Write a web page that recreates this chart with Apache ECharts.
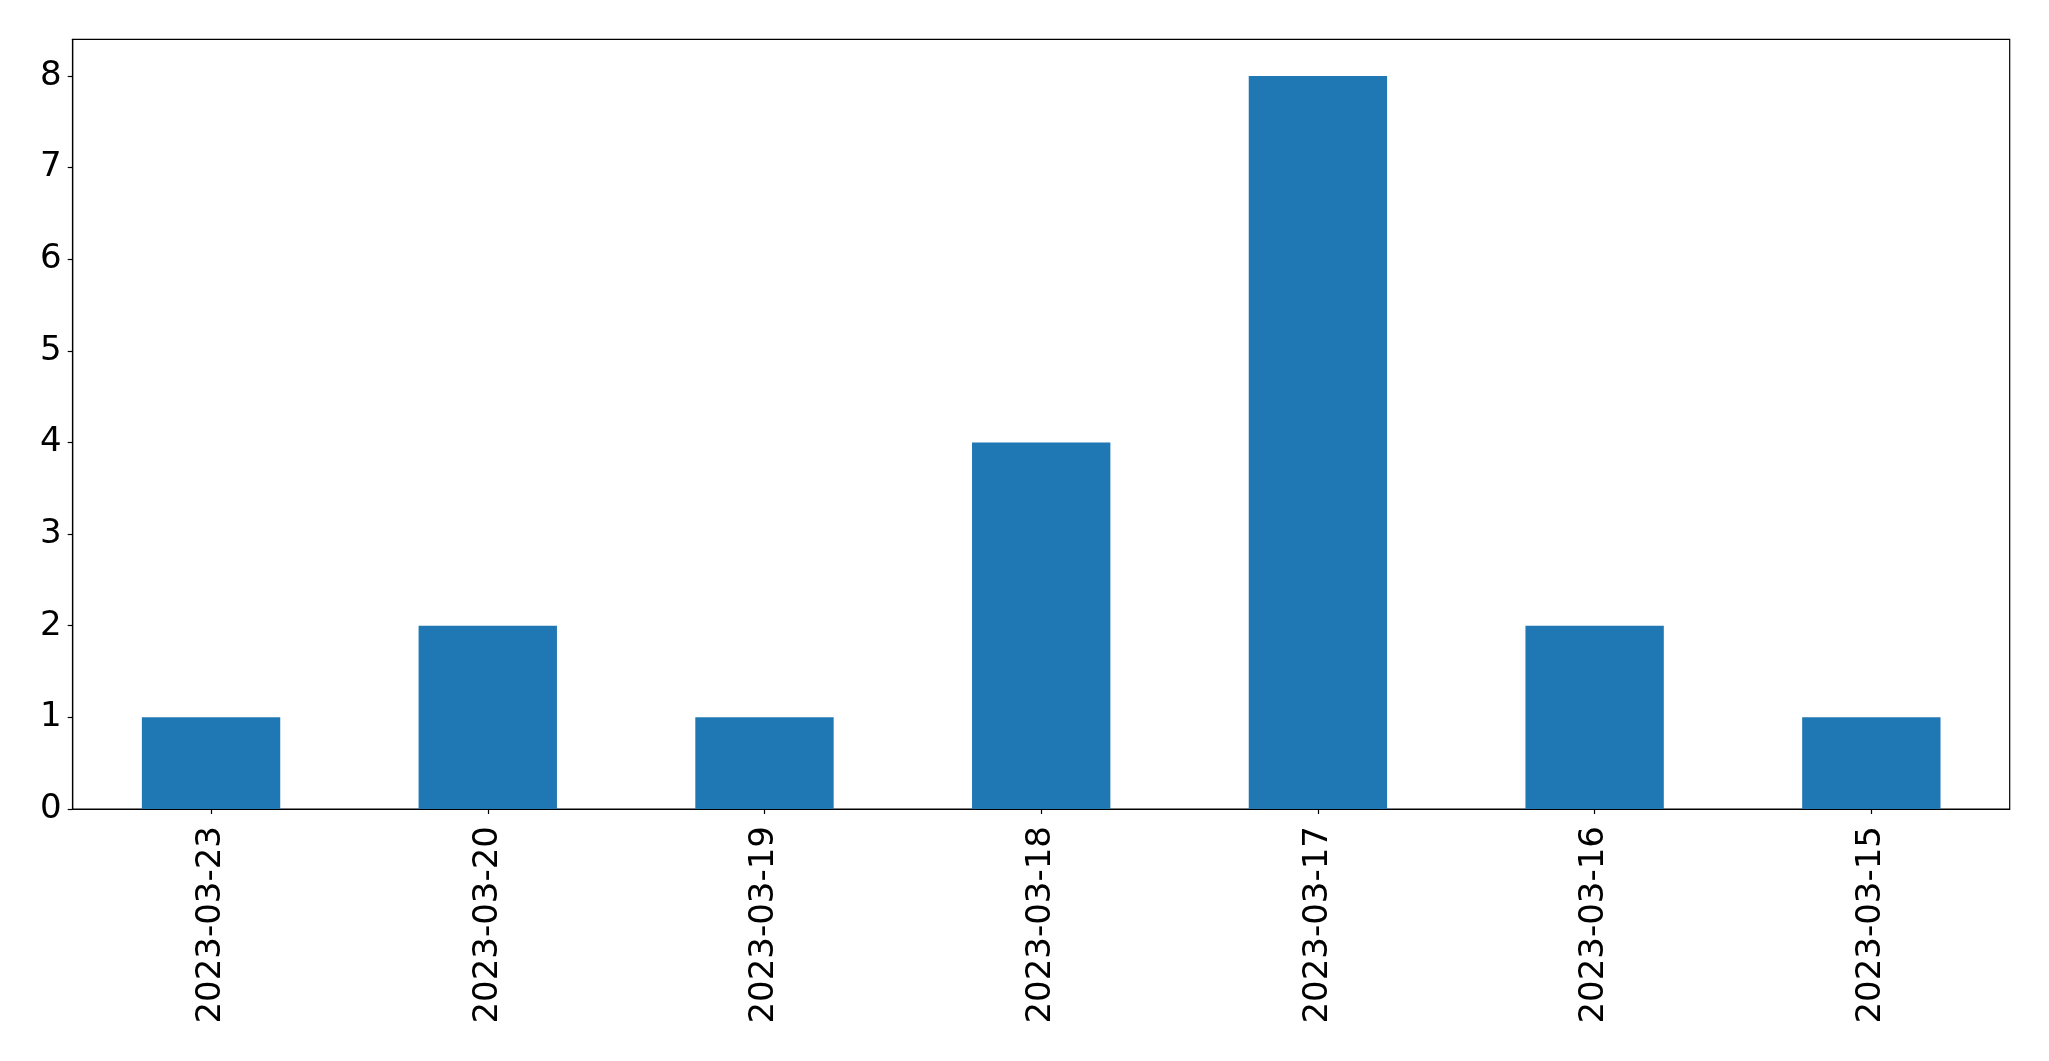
<!DOCTYPE html>
<html>
<head>
<meta charset="utf-8">
<script src="https://cdn.jsdelivr.net/npm/echarts@6/dist/echarts.min.js"></script>
<style>
html,body{margin:0;padding:0;background:#fff;}
#chart{width:2049px;height:1061px;}
</style>
</head>
<body>
<div id="chart"></div>
<script>
const categories = ['2023-03-23','2023-03-20','2023-03-19','2023-03-18','2023-03-17','2023-03-16','2023-03-15'];
const counts = [1, 2, 1, 4, 8, 2, 1];
const yTicks = [0, 1, 2, 3, 4, 5, 6, 7, 8];

const chart = echarts.init(document.getElementById('chart'), null, {renderer: 'canvas'});
const FONT = 'DejaVu Sans';
chart.setOption({
  animation: false,
  backgroundColor: '#ffffff',
  grid: {
    left: 72.7, top: 39.3, right: 39.3, bottom: 252,
    show: true, borderColor: '#000', borderWidth: 1.2, backgroundColor: 'transparent'
  },
  xAxis: {
    type: 'category',
    data: categories,
    axisLine: {show: true, lineStyle: {color: '#000', width: 1.2}},
    axisTick: {show: true, alignWithLabel: true, length: 5, lineStyle: {color: '#000', width: 1.2}},
    axisLabel: {rotate: 90, color: '#000', fontFamily: FONT, fontSize: 34, margin: 17, interval: 0},
    splitLine: {show: false}
  },
  yAxis: {
    type: 'value',
    min: 0, max: 8.4,
    interval: 1,
    axisLine: {show: true, lineStyle: {color: '#000', width: 1.2}},
    axisTick: {show: true, length: 5, lineStyle: {color: '#000', width: 1.2}, customValues: yTicks},
    axisLabel: {color: '#000', fontFamily: FONT, fontSize: 34, margin: 11, customValues: yTicks},
    splitLine: {show: false}
  },
  series: [{
    type: 'bar',
    data: counts,
    barWidth: '50%',
    itemStyle: {color: '#1f77b4'}
  }]
});
</script>
</body>
</html>
